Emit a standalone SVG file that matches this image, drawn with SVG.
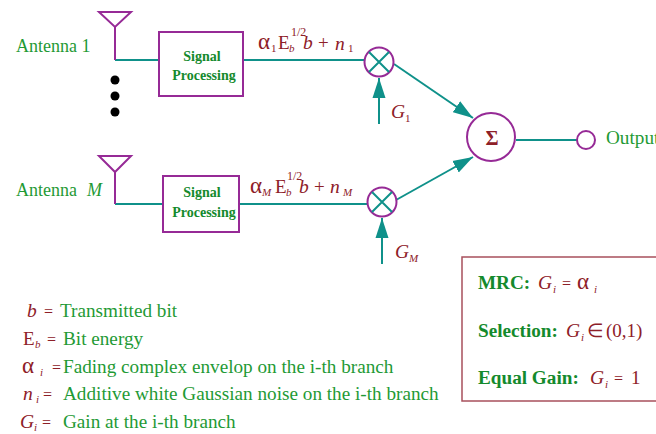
<svg xmlns="http://www.w3.org/2000/svg" width="656" height="434" viewBox="0 0 656 434">
<style>
text{font-family:"Liberation Serif","Times New Roman",serif}
.g{fill:#1f9a35;font-size:18px}
.l{fill:#1f9a35;font-size:19.2px}
.gb{fill:#148a2c;font-size:14px;font-weight:bold;text-anchor:middle}
.gB{fill:#148a2c;font-size:19.2px;font-weight:bold}
.m{fill:#8e2028;font-size:19px}
.e{fill:#8e2028;font-size:16px}
.al{fill:#8e2028;font-size:23px}
.mi{fill:#8e2028;font-size:19.5px;font-style:italic}
.s{fill:#8e2028;font-size:11px}
.h{fill:#8e2028;font-size:12px}
.si{fill:#8e2028;font-size:11px;font-style:italic}
.p{fill:none;stroke:#962a96;stroke-width:2}
.w{fill:#fff;stroke:#962a96;stroke-width:2}
.t{fill:none;stroke:#0f918a;stroke-width:2}
.x{stroke:#0f918a;stroke-width:2}
.k{fill:#000}
</style>
<defs>
<marker id="a" markerUnits="userSpaceOnUse" markerWidth="22" markerHeight="14" refX="20" refY="7" orient="auto"><path d="M0,0.5L20,7L0,13.5Z" fill="#0f918a"/></marker>
</defs>
<g id="connectors">
<path class="t" d="M115,60H159M243,60H366"/>
<path class="t" d="M115,204H163M239,204H368"/>
<path class="t" d="M394,64L473,118" marker-end="url(#a)"/>
<path class="t" d="M396,200L473,157" marker-end="url(#a)"/>
<path class="t" d="M379,124V78" marker-end="url(#a)"/>
<path class="t" d="M382,264V218" marker-end="url(#a)"/>
<path class="t" d="M516,140H577"/>
</g>
<g id="antenna-1">
<path class="p" d="M115,60V27M99,12H131L115,27Z"/>
<text class="g" x="16" y="52">Antenna 1</text>
</g>
<g id="dots">
<circle class="k" cx="115" cy="80" r="4.5"/><circle class="k" cx="115" cy="96" r="4.5"/><circle class="k" cx="115" cy="112" r="4.5"/>
</g>
<g id="antenna-m">
<path class="p" d="M115,204V172M99,156H131L115,172Z"/>
<text class="g" x="16" y="196">Antenna</text><text class="g" x="87" y="196" font-style="italic">M</text>
</g>
<g id="signal-processing-1">
<rect class="p" x="159" y="32" width="84" height="64"/>
<text class="gb" x="202" y="61">Signal</text><text class="gb" x="204" y="80">Processing</text>
</g>
<g id="signal-processing-m">
<rect class="p" x="163" y="176" width="76" height="56"/>
<text class="gb" x="202" y="197">Signal</text><text class="gb" x="204" y="217">Processing</text>
</g>
<g id="label-1">
<text class="al" x="258" y="49">α</text><text class="s" x="271" y="52">1</text>
<text class="m" x="278" y="49">E</text><text class="si" x="289" y="52">b</text><text class="h" x="291" y="36">1/2</text>
<text class="mi" x="303" y="49">b</text><text class="m" x="318" y="49">+</text>
<text class="mi" x="335" y="50">n</text><text class="s" x="348" y="52">1</text>
</g>
<g id="label-m">
<text class="al" x="250" y="193">α</text><text class="si" x="262" y="196">M</text>
<text class="m" x="275" y="193">E</text><text class="si" x="286" y="196">b</text><text class="h" x="287" y="180">1/2</text>
<text class="mi" x="299" y="193">b</text><text class="m" x="314" y="193">+</text>
<text class="mi" x="330" y="193">n</text><text class="si" x="343" y="196">M</text>
</g>
<g id="multiplier-1">
<circle class="w" cx="379" cy="62" r="14.5"/><path class="x" d="M369,52L389,72M389,52L369,72"/>
<text class="mi" x="391" y="118">G</text><text class="s" x="405" y="122">1</text>
</g>
<g id="multiplier-m">
<circle class="w" cx="382" cy="202" r="14.5"/><path class="x" d="M372,192L392,212M392,192L372,212"/>
<text class="mi" x="395" y="258">G</text><text class="si" x="409" y="262">M</text>
</g>
<g id="sum">
<circle class="w" cx="491" cy="137" r="24"/>
<text x="492" y="145" fill="#8e2028" font-size="20" font-weight="bold" text-anchor="middle">Σ</text>
</g>
<g id="output">
<circle class="w" cx="586" cy="140" r="9"/>
<text class="l" x="606" y="144">Output</text>
</g>
<g id="legend-box">
<path d="M656,257H462V401H656" fill="none" stroke="#a8505c" stroke-width="1.5"/>
<text class="gB" x="478" y="289">MRC:</text><text class="mi" x="538" y="289">G</text><text class="si" x="553" y="293">i</text><text class="e" x="562" y="289">=</text><text class="al" x="577" y="289">α</text><text class="si" x="594" y="293">i</text>
<text class="gB" x="478" y="337">Selection:</text><text class="mi" x="566" y="337">G</text><text class="si" x="581" y="341">i</text><text class="m" x="587" y="337" font-size="14">∈</text><text class="m" x="606" y="337">(0,1)</text>
<text class="gB" x="478" y="384">Equal Gain:</text><text class="mi" x="590" y="384">G</text><text class="si" x="605" y="388">i</text><text class="e" x="614" y="384">=</text><text class="m" x="631" y="384">1</text>
</g>
<g id="legend-terms">
<text class="mi" x="27" y="317">b</text><text class="e" x="44" y="317">=</text><text class="l" x="60" y="317">Transmitted bit</text>
<text class="m" x="23" y="345">E</text><text class="si" x="35" y="348">b</text><text class="e" x="47" y="345">=</text><text class="l" x="63" y="345">Bit energy</text>
<text class="al" x="22" y="373">α</text><text class="si" x="40" y="376">i</text><text class="e" x="52" y="373">=</text><text class="l" x="63" y="373">Fading complex envelop on the i-th branch</text>
<text class="mi" x="23" y="400">n</text><text class="si" x="36" y="403">i</text><text class="e" x="43" y="400">=</text><text class="l" x="63" y="400">Additive white Gaussian noise on the i-th branch</text>
<text class="mi" x="20" y="428">G</text><text class="si" x="34" y="431">i</text><text class="e" x="42" y="428">=</text><text class="l" x="63" y="428">Gain at the i-th branch</text>
</g>
</svg>
